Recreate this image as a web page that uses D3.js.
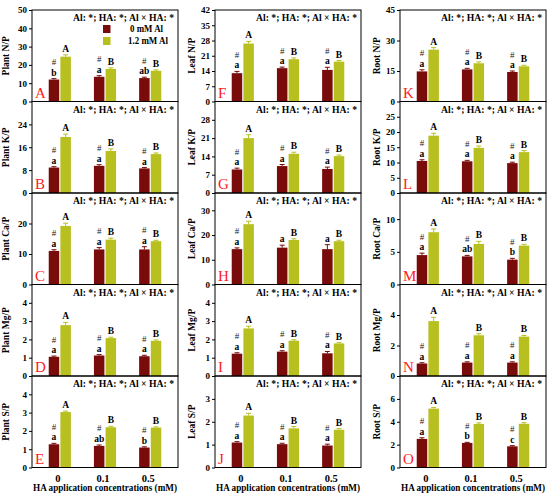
<!DOCTYPE html>
<html>
<head>
<meta charset="utf-8">
<script src="https://cdn.jsdelivr.net/npm/d3@7/dist/d3.min.js"></script>
<style>
  body { margin: 0; background: #fff; }
  svg { display: block; }
  text { font-family: "Liberation Serif", Tinos, "Times New Roman", Times, serif; }
</style>
</head>
<body>
<svg id="chart" width="550" height="498"></svg>
<script>
// Data
const haLevels = ["0", "0.1", "0.5"];
const alLevels = ["0 mM Al", "1.2 mM Al"];
const panelIds = ["A", "B", "C", "D", "E", "F", "G", "H", "I", "J", "K", "L", "M", "N", "O"];
const panelTitles = [
  "Plant N/P", "Plant K/P", "Plant Ca/P", "Plant Mg/P", "Plant S/P",
  "Leaf N/P", "Leaf K/P", "Leaf Ca/P", "Leaf Mg/P", "Leaf S/P",
  "Root N/P", "Root K/P", "Root Ca/P", "Root Mg/P", "Root S/P"
];
const yMax = [50, 32, 30, 5, 5, 42, 35, 37, 5, 4, 45, 30, 14, 6, 8];
const yTicks = [
  [0, 10, 20, 30, 40, 50], [0, 8, 16, 24], [0, 10, 20], [0, 1, 2, 3, 4], [0, 1, 2, 3, 4],
  [0, 7, 14, 21, 28, 35, 42], [0, 7, 14, 21, 28], [0, 10, 20, 30], [0, 1, 2, 3, 4], [0, 1, 2, 3],
  [0, 15, 30, 45], [0, 5, 10, 15, 20, 25], [0, 5, 10], [0, 2, 4], [0, 2, 4, 6]
];
const ctrlMeans = [
  [12.0, 13.5, 12.8], [8.9, 9.5, 8.6], [11.0, 11.5, 11.5], [1.05, 1.12, 1.08], [1.27, 1.18, 1.09],
  [13.0, 15.3, 14.5], [9.0, 10.3, 9.2], [14.3, 14.9, 14.3], [1.22, 1.33, 1.24], [1.09, 1.02, 0.96],
  [14.8, 15.8, 14.5], [10.5, 10.4, 9.8], [4.5, 4.3, 3.8], [0.82, 0.88, 0.88], [2.5, 2.15, 1.85]
];
const alMeans = [
  [24.5, 17.8, 16.8], [19.6, 14.7, 13.6], [19.2, 14.7, 14.2], [2.78, 2.07, 1.92], [3.03, 2.2, 2.18],
  [26.6, 19.4, 18.3], [21.0, 15.0, 14.1], [24.4, 18.0, 17.5], [2.6, 1.93, 1.78], [2.27, 1.71, 1.65],
  [25.5, 18.8, 17.3], [18.8, 14.8, 13.4], [8.0, 6.2, 5.95], [3.6, 2.67, 2.58], [5.15, 3.8, 3.82]
];
const ctrlErr = [
  [0.5, 0.6, 0.5], [0.3, 0.4, 0.3], [0.4, 0.6, 0.9], [0.04, 0.05, 0.05], [0.05, 0.05, 0.04],
  [0.8, 0.5, 1.2], [0.5, 0.6, 0.7], [0.5, 1.0, 1.8], [0.05, 0.05, 0.1], [0.04, 0.04, 0.06],
  [0.8, 0.5, 0.5], [0.4, 0.3, 0.3], [0.3, 0.15, 0.2], [0.05, 0.05, 0.05], [0.1, 0.05, 0.06]
];
const alErr = [
  [1.0, 0.6, 0.5], [1.0, 0.7, 0.4], [0.9, 0.5, 0.3], [0.15, 0.05, 0.05], [0.05, 0.05, 0.04],
  [1.0, 0.6, 0.5], [1.3, 0.6, 0.4], [1.2, 0.5, 0.4], [0.12, 0.05, 0.04], [0.1, 0.08, 0.05],
  [1.0, 0.7, 0.5], [0.8, 0.6, 0.5], [0.5, 0.4, 0.2], [0.25, 0.1, 0.08], [0.1, 0.1, 0.1]
];
const ctrlLetters = [
  ["b", "a", "ab"], ["a", "a", "a"], ["a", "a", "a"], ["a", "a", "a"], ["a", "ab", "b"],
  ["a", "a", "a"], ["a", "a", "a"], ["a", "a", "a"], ["a", "a", "a"], ["a", "a", "a"],
  ["a", "a", "a"], ["a", "a", "a"], ["a", "ab", "b"], ["a", "a", "a"], ["a", "b", "c"]
];
const alLetters = ["A", "B", "B"];
const hashMarks = [
  [1, 1, 1], [1, 1, 1], [1, 1, 1], [1, 1, 1], [1, 1, 1],
  [1, 1, 1], [1, 1, 1], [1, 0, 0], [1, 1, 1], [1, 1, 1],
  [1, 1, 1], [1, 1, 1], [1, 1, 1], [1, 1, 1], [1, 1, 1]
];
const statText = "Al: *; HA: *; Al × HA: *";
const xTitle = "HA application concentrations (mM)";

// Layout
const colX = [32, 215, 400];
const panelW = 146;
const topY = 10;
const panelH = 91.5;
const colors = ["#7a0b0b", "#b7c01e"];

const svg = d3.select("#chart");

const x = d3.scaleBand()
  .domain(haLevels)
  .range([0, panelW])
  .paddingInner(0.51)
  .paddingOuter(0.37);

const xInner = d3.scaleBand()
  .domain(alLevels)
  .range([0, x.bandwidth()])
  .paddingInner(0.1);

panelIds.forEach((id, i) => {
  const col = Math.floor(i / 5);
  const row = i % 5;
  const g = svg.append("g")
    .attr("transform", `translate(${colX[col]},${topY + row * panelH})`);

  const y = d3.scaleLinear().domain([0, yMax[i]]).range([panelH, 0]);

  // Bars
  const rows = haLevels.map((ha, j) => [
    { ha, al: alLevels[0], v: ctrlMeans[i][j], e: ctrlErr[i][j], c: colors[0] },
    { ha, al: alLevels[1], v: alMeans[i][j], e: alErr[i][j], c: colors[1] }
  ]).flat();

  const bar = g.selectAll("g.bar")
    .data(rows)
    .join("g")
    .attr("class", "bar")
    .attr("transform", d => `translate(${x(d.ha) + xInner(d.al)},0)`);

  bar.append("rect")
    .attr("y", d => y(d.v))
    .attr("width", xInner.bandwidth())
    .attr("height", d => panelH - y(d.v))
    .attr("fill", d => d.c);

  // Error bars
  const bw = xInner.bandwidth();
  bar.append("line")
    .attr("x1", bw / 2).attr("x2", bw / 2)
    .attr("y1", d => y(d.v)).attr("y2", d => y(d.v + d.e))
    .attr("stroke", d => d.c).attr("stroke-width", 1);
  bar.append("line")
    .attr("x1", bw / 2 - 2.5).attr("x2", bw / 2 + 2.5)
    .attr("y1", d => y(d.v + d.e)).attr("y2", d => y(d.v + d.e))
    .attr("stroke", d => d.c).attr("stroke-width", 1);

  // Significance letters
  haLevels.forEach((ha, j) => {
    const cx0 = x(ha) + xInner(alLevels[0]) + bw / 2;
    const cx1 = x(ha) + xInner(alLevels[1]) + bw / 2;
    const top0 = y(ctrlMeans[i][j] + ctrlErr[i][j]) - 3;
    const top1 = y(alMeans[i][j] + alErr[i][j]) - 3;
    g.append("text")
      .attr("x", cx0).attr("y", top0)
      .attr("text-anchor", "middle")
      .attr("font-size", 9.5).attr("font-weight", "bold")
      .text(ctrlLetters[i][j]);
    if (hashMarks[i][j]) {
      g.append("text")
        .attr("x", cx0).attr("y", top0 - 10.5)
        .attr("text-anchor", "middle")
        .attr("font-size", 9).attr("fill", "#222")
        .text("#");
    }
    g.append("text")
      .attr("x", cx1).attr("y", top1)
      .attr("text-anchor", "middle")
      .attr("font-size", 9.5).attr("font-weight", "bold")
      .text(alLetters[j]);
  });

  // Frame
  g.append("rect")
    .attr("width", panelW).attr("height", panelH)
    .attr("fill", "none").attr("stroke", "#000").attr("stroke-width", 1);

  // Y axis
  const yAxis = g.append("g")
    .call(d3.axisLeft(y).tickValues(yTicks[i]).tickSize(3).tickPadding(2).tickFormat(d3.format("d")));
  yAxis.select(".domain").remove();
  yAxis.attr("font-family", null).attr("font-size", 9).attr("font-weight", "bold");
  yAxis.selectAll("text").attr("fill", "#000");
  yAxis.selectAll("line").attr("stroke", "#000");

  // Y title
  g.append("text")
    .attr("transform", `translate(${col === 0 ? -23 : -20},${panelH / 2}) rotate(-90)`)
    .attr("text-anchor", "middle")
    .attr("font-size", 9.5)
    .attr("font-weight", "bold")
    .text(panelTitles[i]);

  // Stats text
  g.append("text")
    .attr("x", panelW - 4).attr("y", 11)
    .attr("text-anchor", "end")
    .attr("font-size", 9.5).attr("font-weight", "bold")
    .attr("textLength", 101).attr("lengthAdjust", "spacingAndGlyphs")
    .text(statText);

  // Panel letter
  g.append("text")
    .attr("x", 3).attr("y", panelH - 4)
    .attr("font-size", 15)
    .attr("fill", "#ff1a1a")
    .text(id);

  // Legend in first panel
  if (i === 0) {
    alLevels.forEach((lab, k) => {
      g.append("rect")
        .attr("x", 71).attr("y", 15 + k * 12)
        .attr("width", 7.5).attr("height", 8)
        .attr("fill", colors[k]);
      g.append("text")
        .attr("x", k === 0 ? 98 : 96).attr("y", 22 + k * 12)
        .attr("font-size", 9.5).attr("font-weight", "bold")
        .attr("textLength", k === 0 ? 33 : 40).attr("lengthAdjust", "spacingAndGlyphs")
        .text(lab);
    });
  }

  // X axis for bottom row
  if (row === 4) {
    haLevels.forEach(ha => {
      g.append("text")
        .attr("x", x(ha) + x.bandwidth() / 2 - 2)
        .attr("y", panelH + 14)
        .attr("text-anchor", "middle")
        .attr("font-size", 10.5).attr("font-weight", "bold")
        .text(ha);
    });
    g.append("text")
      .attr("x", panelW / 2)
      .attr("y", panelH + 23.5)
      .attr("text-anchor", "middle")
      .attr("font-size", 9.5).attr("font-weight", "bold")
      .attr("textLength", 144).attr("lengthAdjust", "spacingAndGlyphs")
      .text(xTitle);
  }
});
</script>
</body>
</html>
